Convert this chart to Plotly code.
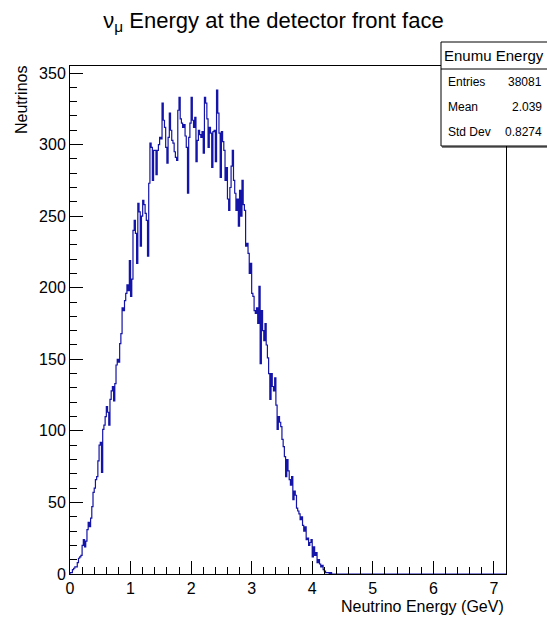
import plotly.graph_objects as go

# ---------------- data ----------------
x_min = 0.0
x_max = 7.2
bin_width = 0.02
n_bins = 360

counts = [
    1, 1, 3, 4, 5, 5, 8, 11, 12, 13,
    20, 24, 19, 23, 31, 36, 33, 39, 47, 57,
    60, 66, 68, 79, 90, 92, 71, 101, 104, 110,
    117, 113, 104, 122, 128, 131, 121, 133, 146, 150,
    148, 161, 168, 186, 184, 191, 196, 202, 198, 219,
    194, 206, 240, 247, 238, 217, 259, 253, 229, 250,
    261, 258, 252, 247, 222, 273, 301, 298, 275, 296,
    296, 279, 296, 300, 305, 304, 329, 317, 312, 298,
    287, 305, 322, 310, 303, 301, 295, 291, 289, 324,
    333, 318, 315, 312, 314, 306, 298, 266, 305, 315,
    333, 317, 312, 319, 288, 303, 310, 307, 305, 309,
    294, 333, 329, 318, 298, 312, 308, 284, 309, 310,
    288, 338, 322, 308, 277, 309, 302, 296, 275, 284,
    262, 254, 270, 285, 296, 275, 266, 254, 262, 243,
    268, 250, 275, 258, 254, 229, 231, 224, 210, 217,
    196, 194, 184, 182, 186, 175, 201, 147, 184, 170,
    163, 175, 160, 151, 140, 122, 140, 131, 128, 137,
    118, 101, 110, 106, 103, 94, 89, 82, 68, 80,
    72, 66, 62, 68, 52, 58, 55, 46, 44, 42,
    38, 40, 34, 30, 33, 24, 25, 20, 22, 24,
    12, 19, 13, 15, 8, 10, 7, 5, 6, 3,
    2, 1, 1, 1, 0, 1, 0, 0, 0, 0,
]

x_ticks = [0, 1, 2, 3, 4, 5, 6, 7]
y_ticks = [0, 50, 100, 150, 200, 250, 300, 350]

stats_title = "Enumu Energy"
stats_labels = ["Entries", "Mean", "Std Dev"]
stats_values = ["38081", "2.039", "0.8274"]

title_text = "ν<sub>μ</sub> Energy at the detector front face"
x_title = "Neutrino Energy (GeV)"
y_title = "Neutrinos"

# ---------------- build step outline ----------------
full = counts + [0] * (n_bins - len(counts))
edges = [x_min + i * bin_width for i in range(n_bins + 1)]
step_x = [x_min] + edges
step_y = [0] + full + [full[-1]]

y_max = max(counts) * 1.05

FONT = "Liberation Sans, Arial, Helvetica, sans-serif"

W, H = 547, 620
L, R, T, B = 70, 506, 66, 574


def px(x):
    return (x - L) / (R - L)


def py(y):
    return (B - y) / (B - T)


fig = go.Figure()
fig.add_trace(go.Scatter(
    x=step_x, y=step_y, mode="lines", line_shape="hv",
    line=dict(color="#1414a8", width=1.2), hoverinfo="skip",
    showlegend=False,
))

axis_common = dict(
    showline=True, linecolor="black", linewidth=1, mirror=True,
    showgrid=False, zeroline=False,
    ticks="inside", tickcolor="black", tickwidth=1,
    tickfont=dict(family=FONT, size=16, color="black"),
)

fig.update_layout(
    width=W, height=H,
    margin=dict(l=L, r=W - R, t=T, b=H - B),
    paper_bgcolor="white", plot_bgcolor="white",
    font=dict(family=FONT, color="black"),
    title=dict(text=title_text, x=0.5, xref="container", xanchor="center",
               y=1 - 20 / H, yref="container", yanchor="middle",
               font=dict(family=FONT, size=22, color="black")),
    xaxis=dict(range=[x_min, x_max], tickvals=x_ticks, ticklen=13,
               minor=dict(dtick=0.2, tick0=0, ticks="inside", ticklen=7,
                          tickcolor="black", showgrid=False),
               **axis_common),
    yaxis=dict(range=[0, y_max], tickvals=y_ticks, ticklen=13,
               minor=dict(dtick=10, tick0=0, ticks="inside", ticklen=7,
                          tickcolor="black", showgrid=False),
               **axis_common),
    showlegend=False,
)

# axis titles (ROOT style: aligned to the end of the axes)
fig.add_annotation(text=x_title, xref="paper", yref="paper",
                   x=px(506), y=py(607), xanchor="right", yanchor="middle",
                   showarrow=False, font=dict(family=FONT, size=16, color="black"))
fig.add_annotation(text=y_title, xref="paper", yref="paper",
                   x=px(21), y=py(64), xanchor="center", yanchor="top",
                   textangle=-90, showarrow=False,
                   font=dict(family=FONT, size=16, color="black"))

# stats box
bx0, bx1, by0, by1, bsep = 441, 548, 42, 146, 69
fig.add_shape(type="rect", xref="paper", yref="paper",
              x0=px(bx0), x1=px(bx1), y0=py(by1), y1=py(by0),
              line=dict(color="black", width=1), fillcolor="white", layer="above")
fig.add_shape(type="line", xref="paper", yref="paper",
              x0=px(bx0), x1=px(bx1), y0=py(bsep), y1=py(bsep),
              line=dict(color="black", width=1), layer="above")
fig.add_shape(type="line", xref="paper", yref="paper",
              x0=px(bx0 + 1), x1=px(bx1), y0=py(by1 + 1), y1=py(by1 + 1),
              line=dict(color="black", width=1), layer="above")
fig.add_annotation(text=stats_title, xref="paper", yref="paper",
                   x=px(494), y=py(55.5), xanchor="center", yanchor="middle",
                   showarrow=False, font=dict(family=FONT, size=15, color="black"))
row_y = [82, 107, 132]
for lab, val, yy in zip(stats_labels, stats_values, row_y):
    fig.add_annotation(text=lab, xref="paper", yref="paper",
                       x=px(446), y=py(yy), xanchor="left", yanchor="middle",
                       showarrow=False, font=dict(family=FONT, size=12, color="black"))
    fig.add_annotation(text=val, xref="paper", yref="paper",
                       x=px(544), y=py(yy), xanchor="right", yanchor="middle",
                       showarrow=False, font=dict(family=FONT, size=12, color="black"))

fig.write_html("out.html")
